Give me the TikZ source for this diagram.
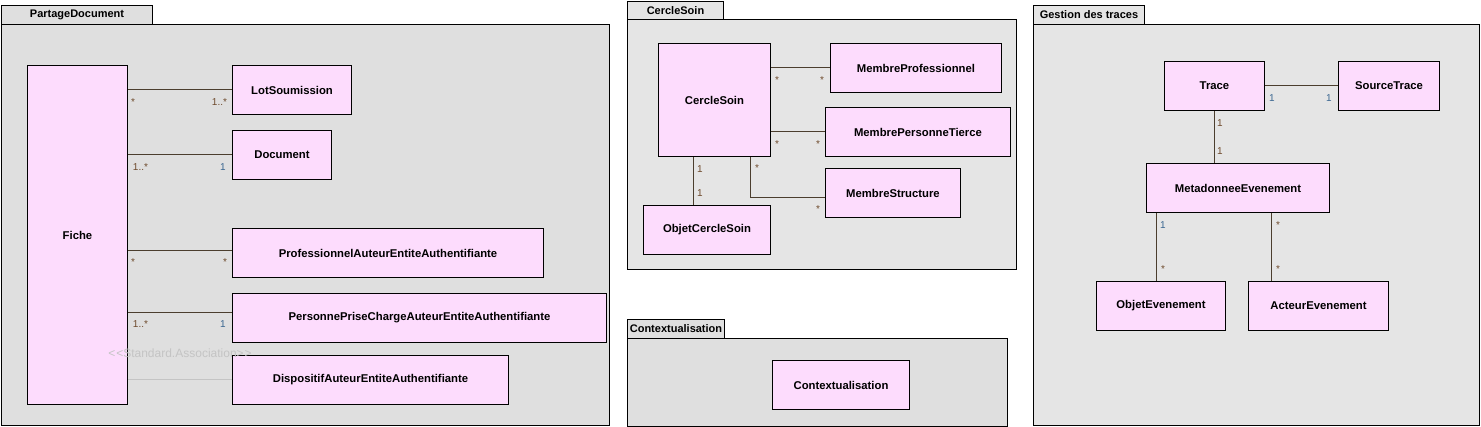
\documentclass[tikz,border=0pt]{standalone}
\usepackage{fontspec}
\setmainfont{Liberation Sans}
\definecolor{pkgfillA}{HTML}{DFDFDF}
\definecolor{pkgfillB}{HTML}{E5E5E5}
\definecolor{clsfill}{HTML}{FDDCFD}
\definecolor{assoccol}{HTML}{4B3E2E}
\definecolor{onecol}{HTML}{3A6690}
\definecolor{manycol}{HTML}{6E4A2C}
\definecolor{stereocol}{HTML}{C4C4C4}
\begin{document}
\begin{tikzpicture}[x=1pt,y=-1pt,
  pkg/.style={draw=black,line width=1pt,inner sep=0pt,anchor=north west},
  pkgtab/.style={pkg,font=\bfseries\fontsize{11}{13}\selectfont},
  cls/.style={draw=black,line width=1pt,fill=clsfill,inner sep=0pt,anchor=north west,
              font=\bfseries\fontsize{11.3}{13}\selectfont},
  assoc/.style={draw=assoccol,line width=1pt},
  mult/.style={font=\fontsize{10}{12}\selectfont,inner sep=0pt,anchor=base},
  one/.style={mult,text=onecol},
  many/.style={mult,text=manycol}]
\useasboundingbox[fill=white] (0,0) rectangle (1481,427);

% ---------------- PartageDocument
\node[pkgtab,fill=pkgfillA,minimum width=151pt,minimum height=19pt] (pdtab) at (1,5) {PartageDocument};
\node[pkg,fill=pkgfillA,minimum width=608pt,minimum height=401pt] (pd) at (1,24) {};
\node[cls,minimum width=100pt,minimum height=339pt] (fiche) at (27,65) {Fiche};
\node[cls,minimum width=119pt,minimum height=49pt] (lot) at (232,65) {LotSoumission};
\node[cls,minimum width=99pt,minimum height=49pt] (doc) at (232,130) {Document};
\node[cls,minimum width=311pt,minimum height=49pt] (prof) at (232,228) {ProfessionnelAuteurEntiteAuthentifiante};
\node[cls,minimum width=374pt,minimum height=49pt] (pers) at (232,293) {PersonnePriseChargeAuteurEntiteAuthentifiante};
\node[cls,minimum width=276pt,minimum height=49pt] (disp) at (232,355) {DispositifAuteurEntiteAuthentifiante};

\coordinate (profL) at ([yshift=2.5pt]prof.west);
\coordinate (persL) at ([yshift=5.5pt]pers.west);
\draw[assoc] (fiche.east |- lot.west) -- (lot.west);
\draw[assoc] (fiche.east |- doc.west) -- (doc.west);
\draw[assoc] (fiche.east |- profL) -- (profL);
\draw[assoc] (fiche.east |- persL) -- (persL);
\draw[draw=stereocol,line width=1pt] (fiche.east |- disp.west) -- (disp.west);

\node[many] (m1a) at (133,105.5) {*};
\node[many] (m1b) at (219.5,105.5) {1..*};
\node[many] (m2a) at (140.5,171) {1..*};
\node[one]  (m2b) at (223,171) {1};
\node[many] (m3a) at (133,265.5) {*};
\node[many] (m3b) at (225,265.5) {*};
\node[many] (m4a) at (140.5,328) {1..*};
\node[one]  (m4b) at (223,328) {1};
\node[font=\fontsize{12}{14}\selectfont,text=stereocol,inner sep=0pt,anchor=base] (stereo) at (180,357.5)
  {<\kern1pt<Standard.Association>\kern1pt>};

% ---------------- CercleSoin
\node[pkgtab,fill=pkgfillB,minimum width=96pt,minimum height=18pt] (cstab) at (627,1) {CercleSoin};
\node[pkg,fill=pkgfillB,minimum width=389pt,minimum height=250pt] (cspkg) at (627,19) {};
\node[cls,minimum width=112pt,minimum height=113pt] (cs) at (658,43) {CercleSoin};
\node[cls,minimum width=171pt,minimum height=49pt] (mp) at (830,43) {MembreProfessionnel};
\node[cls,minimum width=185pt,minimum height=49pt] (mpt) at (825,107) {MembrePersonneTierce};
\node[cls,minimum width=135pt,minimum height=49pt] (ms) at (825,168) {MembreStructure};
\node[cls,minimum width=127pt,minimum height=49pt] (ocs) at (643,205) {ObjetCercleSoin};

\coordinate (csS1) at ([xshift=36pt]cs.south);
\coordinate (msL) at ([yshift=-4.5pt]ms.west);
\coordinate (csS2) at ([xshift=-21pt]cs.south);
\draw[assoc] (cs.east |- mp.west) -- (mp.west);
\draw[assoc] (cs.east |- mpt.west) -- (mpt.west);
\draw[assoc] (csS1) |- (msL);
\draw[assoc] (csS2) -- (csS2 |- ocs.north);

\node[many] (c1a) at (777,83.5) {*};
\node[many] (c1b) at (822,83.5) {*};
\node[many] (c2a) at (777,147.5) {*};
\node[many] (c2b) at (818,147.5) {*};
\node[many] (c3a) at (757,171.5) {*};
\node[many] (c3b) at (818,212.5) {*};
\node[many] (c4a) at (700,173) {1};
\node[many] (c4b) at (700,197) {1};

% ---------------- Contextualisation
\node[pkgtab,fill=pkgfillA,minimum width=97pt,minimum height=19pt] (cxtab) at (627,319) {Contextualisation};
\node[pkg,fill=pkgfillA,minimum width=380pt,minimum height=88pt] (cxpkg) at (627,338) {};
\node[cls,minimum width=137pt,minimum height=49pt] (cx) at (772,360) {Contextualisation};

% ---------------- Gestion des traces
\node[pkgtab,fill=pkgfillB,minimum width=111pt,minimum height=19pt] (gttab) at (1033,5) {Gestion des traces};
\node[pkg,fill=pkgfillB,minimum width=446pt,minimum height=401pt] (gtpkg) at (1033,24) {};
\node[cls,minimum width=100pt,minimum height=49pt] (trace) at (1164,61) {Trace};
\node[cls,minimum width=101pt,minimum height=49pt] (src) at (1338,61) {SourceTrace};
\node[cls,minimum width=183pt,minimum height=49pt] (meta) at (1146,163) {MetadonneeEvenement};
\node[cls,minimum width=129pt,minimum height=49pt] (oe) at (1096,281) {ObjetEvenement};
\node[cls,minimum width=140pt,minimum height=49pt] (ae) at (1248,281) {ActeurEvenement};

\coordinate (mOE) at ([xshift=10pt]meta.south west);
\coordinate (mAE) at ([xshift=125pt]meta.south west);
\draw[assoc] (trace.east) -- (src.west);
\draw[assoc] (trace.south) -- (trace.south |- meta.north);
\draw[assoc] (mOE) -- (mOE |- oe.north);
\draw[assoc] (mAE) -- (mAE |- ae.north);

\node[one]  (g1a) at (1272,102) {1};
\node[one]  (g1b) at (1329,102) {1};
\node[many] (g2a) at (1220,127) {1};
\node[many] (g2b) at (1220,155) {1};
\node[one]  (g3a) at (1163,229) {1};
\node[many] (g3b) at (1163,272.5) {*};
\node[many] (g4a) at (1278,228.5) {*};
\node[many] (g4b) at (1278,272.5) {*};
\end{tikzpicture}
\end{document}
